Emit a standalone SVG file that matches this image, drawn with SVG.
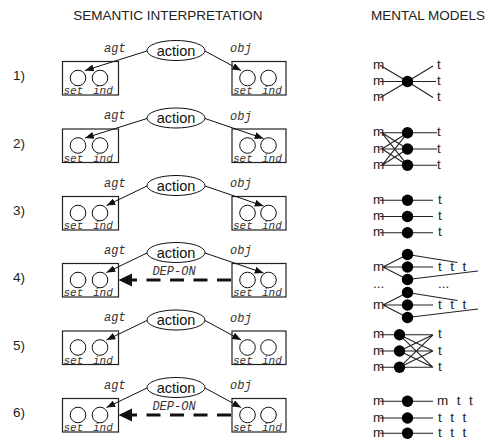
<svg xmlns="http://www.w3.org/2000/svg" width="492" height="439" viewBox="0 0 492 439">
  <style>
    .lbl { font-family: "Liberation Sans", Arial, sans-serif; font-size: 13.5px; fill: #222; }
    .act { font-family: "Liberation Sans", Arial, sans-serif; font-size: 14.5px; fill: #111; text-anchor: middle; }
    .mono { font-family: "Liberation Mono", "Courier New", monospace; font-style: italic; font-size: 12px; fill: #333; }
    .sm { font-size: 11px; }
    .box { fill: #fff; stroke: #222; stroke-width: 1.2; }
    .circ { fill: none; stroke: #111; stroke-width: 1; }
    .ell { fill: #fff; stroke: #111; stroke-width: 1; }
    .arc { fill: none; stroke: #111; stroke-width: 1; marker-end: url(#ah); }
    .dep { fill: none; stroke: #111; stroke-width: 3; stroke-dasharray: 14 9.5; }
    .mm { stroke: #222; stroke-width: 1.1; fill: none; }
    .dot { fill: #000; }
    .tt { word-spacing: 4.8px; }
  </style>
  <defs>
    <marker id="ah" viewBox="0 0 10 8" refX="10" refY="4" markerWidth="9" markerHeight="7" markerUnits="userSpaceOnUse" orient="auto">
      <path d="M0,0 L10,4 L0,8 z" fill="#111"/>
    </marker>
  </defs>

  <!-- column headings -->
  <text class="lbl" x="168" y="20" text-anchor="middle">SEMANTIC INTERPRETATION</text>
  <text class="lbl" x="428" y="20" text-anchor="middle">MENTAL MODELS</text>

  <!-- semantic interpretation rows: nodes -->
  <g id="row1">
    <text class="lbl" x="13" y="80">1)</text>
    <g id="r1-action"><ellipse class="ell" cx="176" cy="50.5" rx="29" ry="10"/><text class="act" x="176" y="55.5">action</text></g>
    <g id="r1-agt"><rect class="box" x="62.5" y="61.5" width="56" height="33.5"/><circle class="circ" cx="78" cy="78" r="7.8"/><circle class="circ" cx="100" cy="78" r="7.8"/><text class="mono sm" x="63.5" y="94">set</text><text class="mono sm" x="93" y="94">ind</text></g>
    <g id="r1-obj"><rect class="box" x="232" y="61.5" width="54" height="33.5"/><circle class="circ" cx="247.5" cy="78" r="7.8"/><circle class="circ" cx="268.5" cy="78" r="7.8"/><text class="mono sm" x="233" y="94">set</text><text class="mono sm" x="262" y="94">ind</text></g>
  </g>
  <g id="row2" transform="translate(0,67.5)">
    <text class="lbl" x="13" y="80">2)</text>
    <g id="r2-action"><ellipse class="ell" cx="176" cy="50.5" rx="29" ry="10"/><text class="act" x="176" y="55.5">action</text></g>
    <g id="r2-agt"><rect class="box" x="62.5" y="61.5" width="56" height="33.5"/><circle class="circ" cx="78" cy="78" r="7.8"/><circle class="circ" cx="100" cy="78" r="7.8"/><text class="mono sm" x="63.5" y="94">set</text><text class="mono sm" x="93" y="94">ind</text></g>
    <g id="r2-obj"><rect class="box" x="232" y="61.5" width="54" height="33.5"/><circle class="circ" cx="247.5" cy="78" r="7.8"/><circle class="circ" cx="268.5" cy="78" r="7.8"/><text class="mono sm" x="233" y="94">set</text><text class="mono sm" x="262" y="94">ind</text></g>
  </g>
  <g id="row3" transform="translate(0,135)">
    <text class="lbl" x="13" y="80">3)</text>
    <g id="r3-action"><ellipse class="ell" cx="176" cy="50.5" rx="29" ry="10"/><text class="act" x="176" y="55.5">action</text></g>
    <g id="r3-agt"><rect class="box" x="62.5" y="61.5" width="56" height="33.5"/><circle class="circ" cx="78" cy="78" r="7.8"/><circle class="circ" cx="100" cy="78" r="7.8"/><text class="mono sm" x="63.5" y="94">set</text><text class="mono sm" x="93" y="94">ind</text></g>
    <g id="r3-obj"><rect class="box" x="232" y="61.5" width="54" height="33.5"/><circle class="circ" cx="247.5" cy="78" r="7.8"/><circle class="circ" cx="268.5" cy="78" r="7.8"/><text class="mono sm" x="233" y="94">set</text><text class="mono sm" x="262" y="94">ind</text></g>
  </g>
  <g id="row4" transform="translate(0,202)">
    <text class="lbl" x="13" y="80">4)</text>
    <g id="r4-action"><ellipse class="ell" cx="176" cy="50.5" rx="29" ry="10"/><text class="act" x="176" y="55.5">action</text></g>
    <g id="r4-agt"><rect class="box" x="62.5" y="61.5" width="56" height="33.5"/><circle class="circ" cx="78" cy="78" r="7.8"/><circle class="circ" cx="100" cy="78" r="7.8"/><text class="mono sm" x="63.5" y="94">set</text><text class="mono sm" x="93" y="94">ind</text></g>
    <g id="r4-obj"><rect class="box" x="232" y="61.5" width="54" height="33.5"/><circle class="circ" cx="247.5" cy="78" r="7.8"/><circle class="circ" cx="268.5" cy="78" r="7.8"/><text class="mono sm" x="233" y="94">set</text><text class="mono sm" x="262" y="94">ind</text></g>
  </g>
  <g id="row5" transform="translate(0,269.5)">
    <text class="lbl" x="13" y="80">5)</text>
    <g id="r5-action"><ellipse class="ell" cx="176" cy="50.5" rx="29" ry="10"/><text class="act" x="176" y="55.5">action</text></g>
    <g id="r5-agt"><rect class="box" x="62.5" y="61.5" width="56" height="33.5"/><circle class="circ" cx="78" cy="78" r="7.8"/><circle class="circ" cx="100" cy="78" r="7.8"/><text class="mono sm" x="63.5" y="94">set</text><text class="mono sm" x="93" y="94">ind</text></g>
    <g id="r5-obj"><rect class="box" x="232" y="61.5" width="54" height="33.5"/><circle class="circ" cx="247.5" cy="78" r="7.8"/><circle class="circ" cx="268.5" cy="78" r="7.8"/><text class="mono sm" x="233" y="94">set</text><text class="mono sm" x="262" y="94">ind</text></g>
  </g>
  <g id="row6" transform="translate(0,337)">
    <text class="lbl" x="13" y="80">6)</text>
    <g id="r6-action"><ellipse class="ell" cx="176" cy="50.5" rx="29" ry="10"/><text class="act" x="176" y="55.5">action</text></g>
    <g id="r6-agt"><rect class="box" x="62.5" y="61.5" width="56" height="33.5"/><circle class="circ" cx="78" cy="78" r="7.8"/><circle class="circ" cx="100" cy="78" r="7.8"/><text class="mono sm" x="63.5" y="94">set</text><text class="mono sm" x="93" y="94">ind</text></g>
    <g id="r6-obj"><rect class="box" x="232" y="61.5" width="54" height="33.5"/><circle class="circ" cx="247.5" cy="78" r="7.8"/><circle class="circ" cx="268.5" cy="78" r="7.8"/><text class="mono sm" x="233" y="94">set</text><text class="mono sm" x="262" y="94">ind</text></g>
  </g>

  <!-- role arcs and dependency arrows -->
  <g id="connectors">
    <g transform="translate(0,0)">
      <text class="mono" x="104" y="51.5">agt</text><text class="mono" x="230" y="52">obj</text>
      <path class="arc" d="M147,51 L85,70.5"/><path class="arc" d="M205,51 L241,70.5"/>
    </g>
    <g transform="translate(0,67.5)">
      <text class="mono" x="104" y="51.5">agt</text><text class="mono" x="230" y="52">obj</text>
      <path class="arc" d="M147,51 L85,70.5"/><path class="arc" d="M205,51 L263.5,71"/>
    </g>
    <g transform="translate(0,135)">
      <text class="mono" x="104" y="51.5">agt</text><text class="mono" x="230" y="52">obj</text>
      <path class="arc" d="M147,51 L106.5,70.5"/><path class="arc" d="M205,51 L263.5,71"/>
    </g>
    <g transform="translate(0,202)">
      <text class="mono" x="104" y="51.5">agt</text><text class="mono" x="230" y="52">obj</text>
      <path class="arc" d="M147,51 L106.5,70.5"/><path class="arc" d="M205,51 L263.5,71"/>
      <text class="mono" x="174" y="73" font-size="12.5" text-anchor="middle">DEP-ON</text>
      <path class="dep" d="M231,78 L131,78"/><path d="M118.5,78 L132,71.5 L132,84.5 z" fill="#111"/>
    </g>
    <g transform="translate(0,269.5)">
      <text class="mono" x="104" y="51.5">agt</text><text class="mono" x="230" y="52">obj</text>
      <path class="arc" d="M147,51 L106.5,70.5"/><path class="arc" d="M205,51 L241,70.5"/>
    </g>
    <g transform="translate(0,337)">
      <text class="mono" x="104" y="51.5">agt</text><text class="mono" x="230" y="52">obj</text>
      <path class="arc" d="M147,51 L106.5,70.5"/><path class="arc" d="M205,51 L241,70.5"/>
      <text class="mono" x="174" y="73" font-size="12.5" text-anchor="middle">DEP-ON</text>
      <path class="dep" d="M231,78 L131,78"/><path d="M118.5,78 L132,71.5 L132,84.5 z" fill="#111"/>
    </g>
  </g>

  <!-- mental models: m = model individuals, t = tokens, dots = entities -->
  <g id="mm1">
    <path class="mm" d="M380,65.3 L407.5,81.5 M380,81.5 L407.5,81.5 M380,97.8 L407.5,81.5 M407.5,81.5 L433,66 M407.5,81.5 L436,81.5 M407.5,81.5 L433,97.5"/>
    <circle class="dot" cx="407.5" cy="81.5" r="5.7"/>
    <text class="lbl" x="373" y="68.8">m</text><text class="lbl" x="373" y="85">m</text><text class="lbl" x="373" y="101.3">m</text>
    <text class="lbl" x="437" y="68.8">t</text><text class="lbl" x="437" y="85">t</text><text class="lbl" x="437" y="101.3">t</text>
  </g>
  <g id="mm2" transform="translate(0,67.5)">
    <path class="mm" d="M380,65.3 L407.5,65.3 M380,81.5 L407.5,81.5 M380,97.8 L407.5,97.8 M407.5,65.3 L437,65.3 M407.5,81.5 L437,81.5 M407.5,97.8 L437,97.8"/>
    <path class="mm" d="M382,65.3 L407.5,81.5 M382,65.3 L407.5,97.8 M382,81.5 L407.5,65.3 M382,81.5 L407.5,97.8 M382,97.8 L407.5,65.3 M382,97.8 L407.5,81.5"/>
    <circle class="dot" cx="407.5" cy="65.3" r="5.7"/><circle class="dot" cx="407.5" cy="81.5" r="5.7"/><circle class="dot" cx="407.5" cy="97.8" r="5.7"/>
    <text class="lbl" x="373" y="68.8">m</text><text class="lbl" x="373" y="85">m</text><text class="lbl" x="373" y="101.3">m</text>
    <text class="lbl" x="437" y="68.8">t</text><text class="lbl" x="437" y="85">t</text><text class="lbl" x="437" y="101.3">t</text>
  </g>
  <g id="mm3" transform="translate(0,135)">
    <path class="mm" d="M380,65.3 L433,65.3 M380,81.5 L433,81.5 M380,97.8 L433,97.8"/>
    <circle class="dot" cx="407.5" cy="65.3" r="5.7"/><circle class="dot" cx="407.5" cy="81.5" r="5.7"/><circle class="dot" cx="407.5" cy="97.8" r="5.7"/>
    <text class="lbl" x="373" y="68.8">m</text><text class="lbl" x="373" y="85">m</text><text class="lbl" x="373" y="101.3">m</text>
    <text class="lbl" x="438" y="68.8">t</text><text class="lbl" x="438" y="85">t</text><text class="lbl" x="438" y="101.3">t</text>
  </g>
  <g id="mm4">
    <path class="mm" d="M383,267 L407.5,254.5 M383,267 L407.5,267 M383,267 L407.5,279.5 M407.5,254.5 L457.5,262.5 M407.5,267 L433,267 M407.5,279.5 L478,271"/>
    <path class="mm" d="M383,305 L407.5,292.5 M383,305 L407.5,305 M383,305 L407.5,317.5 M407.5,292.5 L457.5,300.5 M407.5,305 L433,305 M407.5,317.5 L478,309"/>
    <circle class="dot" cx="407.5" cy="254.5" r="5.7"/><circle class="dot" cx="407.5" cy="267" r="5.7"/><circle class="dot" cx="407.5" cy="279.5" r="5.7"/>
    <circle class="dot" cx="407.5" cy="292.5" r="5.7"/><circle class="dot" cx="407.5" cy="305" r="5.7"/><circle class="dot" cx="407.5" cy="317.5" r="5.7"/>
    <text class="lbl" x="373" y="270.5">m</text><text class="lbl tt" x="438" y="270.5">t t t</text>
    <text class="lbl" x="373" y="288">...</text><text class="lbl" x="438" y="288">...</text>
    <text class="lbl" x="373" y="308.5">m</text><text class="lbl tt" x="438" y="308.5">t t t</text>
  </g>
  <g id="mm5" transform="translate(0,269.5)">
    <path class="mm" d="M380,65.3 L399.5,65.3 M380,81.5 L399.5,81.5 M380,97.8 L399.5,97.8"/>
    <path class="mm" d="M399.5,65.3 L433,65.3 M399.5,65.3 L433,81.5 M399.5,65.3 L433,97.8 M399.5,81.5 L433,65.3 M399.5,81.5 L433,81.5 M399.5,81.5 L433,97.8 M399.5,97.8 L433,65.3 M399.5,97.8 L433,81.5 M399.5,97.8 L433,97.8"/>
    <circle class="dot" cx="399.5" cy="65.3" r="5.7"/><circle class="dot" cx="399.5" cy="81.5" r="5.7"/><circle class="dot" cx="399.5" cy="97.8" r="5.7"/>
    <text class="lbl" x="373" y="68.8">m</text><text class="lbl" x="373" y="85">m</text><text class="lbl" x="373" y="101.3">m</text>
    <text class="lbl" x="438" y="68.8">t</text><text class="lbl" x="438" y="85">t</text><text class="lbl" x="438" y="101.3">t</text>
  </g>
  <g id="mm6" transform="translate(0,337)">
    <path class="mm" d="M380,64.3 L433,64.3 M380,81 L433,81 M380,96.3 L433,96.3"/>
    <circle class="dot" cx="407.5" cy="64.3" r="5.7"/><circle class="dot" cx="407.5" cy="81" r="5.7"/><circle class="dot" cx="407.5" cy="96.3" r="5.7"/>
    <text class="lbl" x="373" y="67.8">m</text><text class="lbl" x="373" y="84.5">m</text><text class="lbl" x="373" y="99.8">m</text>
    <text class="lbl tt" x="437" y="67.8">m t t</text><text class="lbl tt" x="438" y="84.5">t t t</text><text class="lbl tt" x="438" y="99.8">t t t</text>
  </g>
</svg>
